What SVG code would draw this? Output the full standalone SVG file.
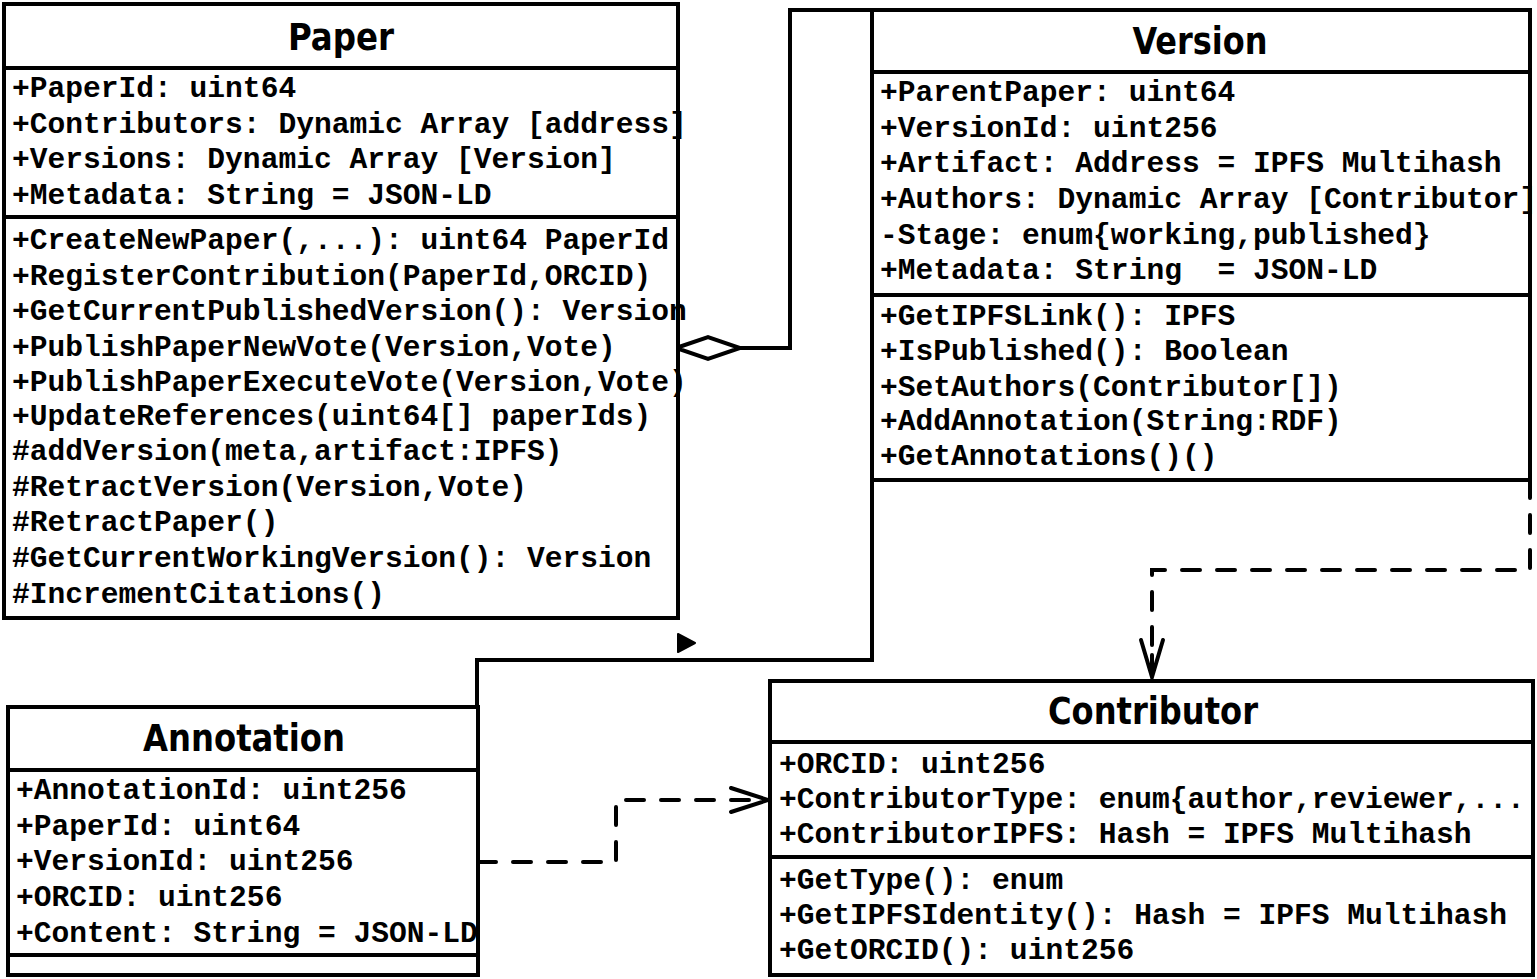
<svg xmlns="http://www.w3.org/2000/svg" width="1537" height="979" viewBox="0 0 1537 979">
<style>
.box{fill:#fff;stroke:#000;stroke-width:4}
.div{stroke:#000;stroke-width:4}
.t{font-family:"DejaVu Sans","Liberation Sans",sans-serif;font-weight:bold;font-size:37px;font-stretch:condensed;text-anchor:middle;fill:#000}
.m{font-family:"Liberation Mono","Courier New",monospace;font-weight:bold;font-size:29.6px;fill:#000;white-space:pre}
.ln{fill:none;stroke:#000;stroke-width:4}
.dash{fill:none;stroke:#000;stroke-width:4;stroke-dasharray:18 17;stroke-linecap:round}
</style>
<g id="connectors">
  <path class="ln" d="M740,348 H790 V10 H872"/>
  <polygon points="676,348 708,337 740,348 708,359" fill="#fff" stroke="#000" stroke-width="4"/>
  <path class="ln" d="M872,480 V660 H477 V707"/>
  <polygon points="678,634 695,643 678,652" fill="#000" stroke="#000" stroke-width="2" stroke-linejoin="round"/>
  <path class="dash" d="M1530,480 V570 H1152 V672"/>
  <path class="ln" stroke-linecap="round" d="M1141,640 L1152,677 L1163,640 M1152,677 V655"/>
  <path class="dash" d="M478,862 H616 V800 H764"/>
  <path class="ln" stroke-linecap="round" d="M731,788 L768,800 L731,812"/>
</g>
<g id="paper">
  <rect class="box" x="4" y="4" width="674" height="614"/>
  <line class="div" x1="4" y1="68" x2="678" y2="68"/>
  <line class="div" x1="4" y1="217" x2="678" y2="217"/>
  <text class="t" x="341" y="50" textLength="106" lengthAdjust="spacingAndGlyphs">Paper</text>
  <text class="m" x="12" y="97">+PaperId: uint64</text>
  <text class="m" x="12" y="132.5">+Contributors: Dynamic Array [address]</text>
  <text class="m" x="12" y="168">+Versions: Dynamic Array [Version]</text>
  <text class="m" x="12" y="203.5">+Metadata: String = JSON-LD</text>
  <text class="m" x="12" y="249">+CreateNewPaper(,...): uint64 PaperId</text>
  <text class="m" x="12" y="284.5">+RegisterContribution(PaperId,ORCID)</text>
  <text class="m" x="12" y="320">+GetCurrentPublishedVersion(): Version</text>
  <text class="m" x="12" y="355.5">+PublishPaperNewVote(Version,Vote)</text>
  <text class="m" x="12" y="391">+PublishPaperExecuteVote(Version,Vote)</text>
  <text class="m" x="12" y="425">+UpdateReferences(uint64[] paperIds)</text>
  <text class="m" x="12" y="460">#addVersion(meta,artifact:IPFS)</text>
  <text class="m" x="12" y="496">#RetractVersion(Version,Vote)</text>
  <text class="m" x="12" y="531">#RetractPaper()</text>
  <text class="m" x="12" y="567">#GetCurrentWorkingVersion(): Version</text>
  <text class="m" x="12" y="603">#IncrementCitations()</text>
</g>
<g id="version">
  <rect class="box" x="872" y="10" width="658" height="470"/>
  <line class="div" x1="872" y1="72" x2="1530" y2="72"/>
  <line class="div" x1="872" y1="295" x2="1530" y2="295"/>
  <text class="t" x="1200" y="54" textLength="135" lengthAdjust="spacingAndGlyphs">Version</text>
  <text class="m" x="880" y="101">+ParentPaper: uint64</text>
  <text class="m" x="880" y="137">+VersionId: uint256</text>
  <text class="m" x="880" y="172">+Artifact: Address = IPFS Multihash</text>
  <text class="m" x="880" y="208">+Authors: Dynamic Array [Contributor]</text>
  <text class="m" x="880" y="244">-Stage: enum{working,published}</text>
  <text class="m" x="880" y="279">+Metadata: String  = JSON-LD</text>
  <text class="m" x="880" y="325">+GetIPFSLink(): IPFS</text>
  <text class="m" x="880" y="360">+IsPublished(): Boolean</text>
  <text class="m" x="880" y="396">+SetAuthors(Contributor[])</text>
  <text class="m" x="880" y="430">+AddAnnotation(String:RDF)</text>
  <text class="m" x="880" y="465">+GetAnnotations()()</text>
</g>
<g id="annotation">
  <rect class="box" x="8" y="707" width="470" height="268"/>
  <line class="div" x1="8" y1="770" x2="478" y2="770"/>
  <line class="div" x1="8" y1="955" x2="478" y2="955"/>
  <text class="t" x="244" y="751" textLength="202" lengthAdjust="spacingAndGlyphs">Annotation</text>
  <text class="m" x="16" y="799">+AnnotationId: uint256</text>
  <text class="m" x="16" y="835">+PaperId: uint64</text>
  <text class="m" x="16" y="870">+VersionId: uint256</text>
  <text class="m" x="16" y="906">+ORCID: uint256</text>
  <text class="m" x="16" y="942">+Content: String = JSON-LD</text>
</g>
<g id="contributor">
  <rect class="box" x="770" y="681" width="763" height="294"/>
  <line class="div" x1="770" y1="742" x2="1533" y2="742"/>
  <line class="div" x1="770" y1="857" x2="1533" y2="857"/>
  <text class="t" x="1153" y="724" textLength="210" lengthAdjust="spacingAndGlyphs">Contributor</text>
  <text class="m" x="779" y="773">+ORCID: uint256</text>
  <text class="m" x="779" y="808">+ContributorType: enum{author,reviewer,...</text>
  <text class="m" x="779" y="843">+ContributorIPFS: Hash = IPFS Multihash</text>
  <text class="m" x="779" y="889">+GetType(): enum</text>
  <text class="m" x="779" y="924">+GetIPFSIdentity(): Hash = IPFS Multihash</text>
  <text class="m" x="779" y="959">+GetORCID(): uint256</text>
</g>
</svg>
